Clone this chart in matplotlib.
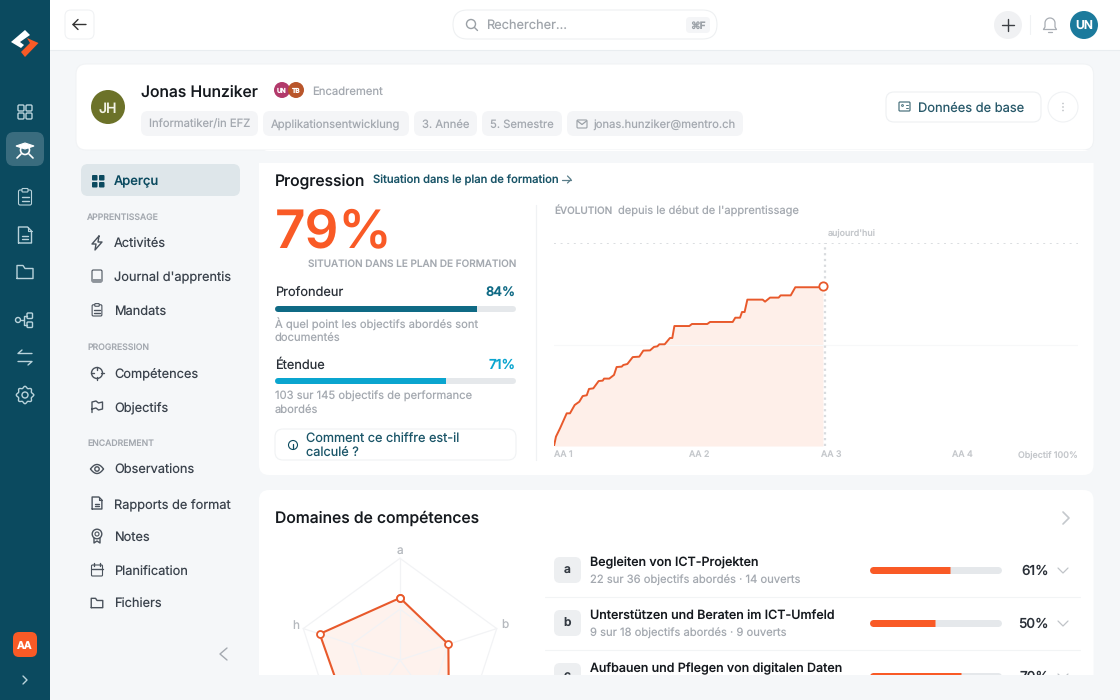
import numpy as np
import matplotlib
matplotlib.use('Agg')
import matplotlib.pyplot as plt
from matplotlib.patches import FancyBboxPatch, Circle, Polygon

plt.rcParams['font.family'] = ['Inter', 'DejaVu Sans']
plt.rcParams['text.hinting'] = 'none'
plt.rcParams['text.hinting_factor'] = 1

# data
evo_years = [0, .015, .046, .097, .122, .158, .193, .219, .25, .267, .3, .341, .372, .382, .422, .458, .478,
             .517, .529, .56, .601, .651, .682, .733, .763, .789, .804, .845, .885, .903, .919, 1.033, 1.053,
             1.17, 1.191, 1.364, 1.384, 1.42, 1.435, 1.455, 1.476, 1.593, 1.611, 1.649, 1.715, 1.73, 1.807,
             1.842, 2.04, 2.053]
evo_pct = [0, 4.6, 8.7, 16.1, 16.1, 20.2, 21.8, 24.6, 25, 28.1, 28.4, 32, 32.2, 33.2, 33.2, 35, 38.9,
           39.1, 39.9, 40.4, 43.8, 44, 47, 47.1, 48.8, 49.1, 50.1, 50.1, 53.2, 53.2, 59.1, 59.1, 60.1,
           60.1, 61.1, 61.1, 63.2, 63.2, 66, 66, 72.1, 72.1, 71.1, 73.1, 73.1, 74.2, 74.2,
           78.2, 78.2, 79]
evo_ticks = [0, 1.03, 2.04, 3.04, 4]
evo_tick_labels = ['AA 1', 'AA 2', 'AA 3', 'AA 4', 'Objectif 100%']
today = 2.069

radar_labels = ['a', 'b', 'c', 'd', 'h']
radar_values = [61, 50, 82, 80, 83]

depth_pct = 84
breadth_pct = 71

domain_letters = ['a', 'b', 'c']
domain_titles = ['Begleiten von ICT-Projekten', 'Unterstützen und Beraten im ICT-Umfeld', 'Aufbauen und Pflegen von digitalen Daten']
domain_subs = ['22 sur 36 objectifs abordés · 14 ouverts', '9 sur 18 objectifs abordés · 9 ouverts', '']
domain_pct = [61, 50, 70]

chips = ['Informatiker/in EFZ', 'Applikationsentwicklung', '3. Année', '5. Semestre', 'jonas.hunziker@mentro.ch']
chip_spans = [(141, 258), (263, 409), (414, 477), (482, 562), (567, 743)]

nav_groups = [('APPRENTISSAGE', 216), ('PROGRESSION', 346), ('ENCADREMENT', 442)]
nav_items = [('Activités', 243, 'bolt'), ("Journal d'apprentis", 276, 'book'), ('Mandats', 310, 'clip'),
             ('Compétences', 373, 'target'), ('Objectifs', 406, 'flag'), ('Observations', 469, 'eye'),
             ('Rapports de format', 503, 'doc'), ('Notes', 536, 'badge'), ('Planification', 570, 'cal'),
             ('Fichiers', 603, 'folder')]

W, H = 1120, 700
TEAL = '#0B4A5F'
ORANGE = '#F95A26'
INK = '#1B2027'
GREY = '#A4A9B0'
PAGE = '#F5F7F9'

fig = plt.figure(figsize=(W / 100, H / 100), dpi=100, facecolor=PAGE)
ax = fig.add_axes([0, 0, 1, 1], zorder=0)
ax.set_xlim(0, W)
ax.set_ylim(H, 0)
ax.axis('off')


def box(x0, y0, x1, y1, r, fc, ec='none', lw=0.8):
    p = FancyBboxPatch((x0, y0), x1 - x0, y1 - y0, boxstyle=f'round,pad=0,rounding_size={r}',
                       fc=fc, ec=ec, lw=lw, mutation_aspect=1)
    ax.add_patch(p)
    return p


def txt(x, y, s, px, color=INK, weight='normal', ha='left'):
    return ax.text(x, y, s, fontsize=px * 0.72, color=color, weight=weight, ha=ha, va='center_baseline')


def line(xs, ys, color, lw=1.0):
    ax.plot(xs, ys, color=color, lw=lw, solid_capstyle='round', solid_joinstyle='round')


def ring(x, y, r, ec, fc='none', lw=1.0):
    ax.add_patch(Circle((x, y), r, fc=fc, ec=ec, lw=lw))


def progress(x0, x1, y, h, value, color, track='#E5E8EB'):
    a = fig.add_axes([x0 / W, 1 - (y + 5) / H, (x1 - x0) / W, 10 / H], zorder=1)
    a.set_xlim(0, 100)
    a.set_ylim(-1, 1)
    a.axis('off')
    lw = h * 0.72
    cap = (h / 2) / (x1 - x0) * 100
    a.plot([cap, 100 - cap], [0, 0], color=track, lw=lw, solid_capstyle='round', clip_on=False)
    a.plot([cap, cap + 1], [0, 0], color=color, lw=lw, solid_capstyle='round', clip_on=False)
    a.plot([cap, value], [0, 0], color=color, lw=lw, solid_capstyle='butt', clip_on=False)


# small line icons, s scales them, s=1 is the sidebar size
def ic_clip(x, y, c, s=1.0, bg=TEAL):
    box(x - 6.5 * s, y - 7 * s, x + 6.5 * s, y + 8 * s, 1.6 * s, 'none', c)
    box(x - 3 * s, y - 8.5 * s, x + 3 * s, y - 5 * s, 0.8 * s, bg, c)
    line([x - 3.5 * s, x + 3.5 * s], [y, y], c)
    line([x - 3.5 * s, x + 3.5 * s], [y + 3.5 * s, y + 3.5 * s], c)


def ic_doc(x, y, c, s=1.0):
    l, r, t, b = x - 6.5 * s, x + 6.5 * s, y - 8 * s, y + 8 * s
    line([l, l, x + 2.5 * s, r, r, l], [b, t, t, t + 4 * s, b, b], c)
    line([x + 2.5 * s, x + 2.5 * s, r], [t, t + 4 * s, t + 4 * s], c, 0.8)
    line([x - 3 * s, x + 3 * s], [y + 1 * s, y + 1 * s], c)
    line([x - 3 * s, x + 3 * s], [y + 4 * s, y + 4 * s], c)


def ic_folder(x, y, c, s=1.0):
    l, r, t, b = x - 8 * s, x + 8 * s, y - 6.5 * s, y + 6.5 * s
    line([l, l, x - 2 * s, x, r, r, l], [b, t, t, t + 3 * s, t + 3 * s, b, b], c)


def icon(kind, x, y, c):
    s = 0.75
    if kind == 'bolt':
        line([x + 2, x - 5, x - 1, x - 2, x + 5, x + 1, x + 2], [y - 7, y + 1, y + 1, y + 7, y - 1, y - 1, y - 7], c)
    elif kind == 'book':
        box(x - 5, y - 6, x + 5, y + 6, 1.3, 'none', c)
        ax.add_patch(plt.Rectangle((x - 5, y + 2.5), 10, 3.5, fc='#8E949B', ec='none'))
    elif kind == 'clip':
        ic_clip(x, y, c, s, PAGE)
    elif kind == 'target':
        ring(x, y, 5.5, c)
        for ang in (0, 90, 180, 270):
            ca, sa = np.cos(np.radians(ang)), np.sin(np.radians(ang))
            line([x + 3.5 * ca, x + 6.5 * ca], [y + 3.5 * sa, y + 6.5 * sa], c)
    elif kind == 'flag':
        line([x - 5, x - 5, x - 1, x + 1.5, x + 5.5, x + 5.5, x + 1.5, x - 1, x - 5],
             [y + 6.5, y - 4, y - 5, y - 3, y - 4, y + 3, y + 4, y + 2, y + 3], c)
    elif kind == 'eye':
        t = np.linspace(-1, 1, 30)
        line(x + 6.5 * t, y - 4.5 * (1 - t ** 2), c)
        line(x + 6.5 * t, y + 4.5 * (1 - t ** 2), c)
        ring(x, y, 2.2, c)
    elif kind == 'doc':
        ic_doc(x, y, c, s)
    elif kind == 'badge':
        ring(x, y - 2, 4.8, c)
        ring(x, y - 2, 2, c, lw=0.8)
        line([x - 3, x - 3, x, x + 3, x + 3], [y + 2, y + 7, y + 5, y + 7, y + 2], c)
    elif kind == 'cal':
        box(x - 5.5, y - 5, x + 5.5, y + 6, 1, 'none', c)
        line([x - 5.5, x + 5.5], [y - 1.5, y - 1.5], c)
        line([x - 3, x - 3], [y - 7, y - 4], c)
        line([x + 3, x + 3], [y - 7, y - 4], c)
    elif kind == 'folder':
        ic_folder(x, y, c, 0.72)


# shells
ax.add_patch(plt.Rectangle((50, 0), W - 50, 49.5, fc='white', ec='none'))
line([50, W], [49.5, 49.5], '#E9EDF0', 0.8)
ax.add_patch(plt.Rectangle((0, 0), 50, H, fc=TEAL, ec='none'))
box(76, 64, 1093.5, 150, 10, 'white', '#F1F3F5')
box(259, 150, 1093.5, 475, 10, 'white')
ax.add_patch(plt.Rectangle((259, 151), 835, 12, fc=PAGE, ec='none'))
box(259, 490, 1093.5, 720, 10, 'white')

# sidebar
ax.add_patch(Polygon([(25, 30), (30, 35), (20, 42), (24, 45), (21, 48), (11, 42)], fc='white', ec='none'))
ax.add_patch(Polygon([(27, 38), (38.5, 43), (25, 57), (21, 52), (30, 43)], fc=ORANGE, ec='none'))
ICON = '#B9D3DB'
for dx in (-4, 4):
    for dy in (-4, 4):
        box(25 + dx - 3, 112 + dy - 3, 25 + dx + 3, 112 + dy + 3, 1.2, 'none', ICON, 1.0)
box(6, 132, 44, 166, 8, '#3A6C7E')
ax.add_patch(Polygon([(16, 146), (25, 143), (34, 146), (25, 149)], fc='white', ec='white', lw=0.8))
ring(25, 150, 4.5, 'white', lw=1.2)
line([17, 21], [158, 154], 'white', 1.2)
line([33, 29], [158, 154], 'white', 1.2)
line([19, 31], [156, 156], 'white', 0.01)
ic_clip(25, 197, ICON)
ic_doc(25, 235, ICON)
ic_folder(25, 272, ICON)
ring(18, 320, 2.5, ICON)
box(27, 313, 32.5, 318.5, 1, 'none', ICON, 1.0)
box(27, 322, 32.5, 327.5, 1, 'none', ICON, 1.0)
line([20.5, 24, 24, 27], [320, 320, 316, 316], ICON)
line([24, 24, 27], [320, 325, 325], ICON)
line([32, 18, 22], [353.5, 353.5, 350], ICON)
line([18, 32, 28], [361.5, 361.5, 365], ICON)
gear_t = np.linspace(0, 2 * np.pi, 160)
line(25 + (7.8 + 0.9 * np.cos(8 * gear_t)) * np.cos(gear_t), 395 + (7.8 + 0.9 * np.cos(8 * gear_t)) * np.sin(gear_t), ICON)
ring(25, 395, 3, ICON)
box(13, 632, 37, 657, 6, ORANGE)
txt(25, 645, 'AA', 10.5, 'white', 'bold', 'center')
line([23, 27, 23], [676, 680, 684], ICON)

# top bar
box(65, 10, 94, 39, 6, 'white', '#F0F2F4')
line([86, 73, 78], [24.5, 24.5, 19.5], '#333', 1.0)
line([73, 78], [24.5, 29.5], '#333', 1.0)
box(453, 10, 717, 39, 14.5, 'white', '#EEF0F2')
ring(471, 24, 4.5, '#9AA0A6')
line([474.5, 477.5], [27.5, 30.5], '#9AA0A6')
txt(486, 24.5, 'Rechercher...', 12.8, '#A0A5AB')
box(686, 17, 710, 33, 4, '#F4F5F7')
txt(698, 25, '⌘F', 10, '#9AA0A6', 'bold', 'center')
ring(1008, 25, 14, 'none', '#F0F1F3')
line([1002, 1014], [25, 25], '#3C3F44', 1.0)
line([1008, 1008], [19, 31], '#3C3F44', 1.0)
line([1029.5, 1029.5], [15, 34], '#F0F2F4', 0.8)
bell_t = np.linspace(np.pi, 0, 20)
line(np.r_[1043.5, 1045, 1050 + 5 * np.cos(bell_t), 1055, 1056.5, 1043.5],
     np.r_[29.5, 27, 23 + 5 * -np.sin(bell_t), 27, 29.5, 29.5], '#A8ADB3', 0.9)
line([1048, 1052], [31.5, 31.5], '#A8ADB3', 0.9)
ring(1084, 25, 14, 'none', '#1C7A9C')
txt(1084, 25.5, 'UN', 12, 'white', 'semibold', 'center')

# header card
ring(108, 107, 17, 'none', '#6C7229')
txt(108, 107.5, 'JH', 14, '#F2F2E6', 'medium', 'center')
txt(141, 90.5, 'Jonas Hunziker', 15.7, '#15191E', 'medium')
ring(282, 90, 8, 'none', '#B23A6B')
txt(282, 90.5, 'UN', 6.5, 'white', 'bold', 'center')
ring(296, 90, 8, 'none', '#B9562B')
txt(296, 90.5, 'TB', 6.5, 'white', 'bold', 'center')
txt(312, 90.5, 'Encadrement', 11.3, GREY)
for name, (c0, c1) in zip(chips, chip_spans):
    box(c0, 111, c1, 136, 7, '#F4F5F7')
    offset = 26 if '@' in name else 8
    txt(c0 + offset, 124, name, 11.25, GREY)
box(577, 120, 587, 128, 1, 'none', '#9AA0A6')
line([577.5, 582, 586.5], [121, 124.5, 121], '#9AA0A6', 0.9)
box(886, 92, 1041, 122, 8, 'white', '#EEF0F2')
box(899, 102, 910, 111, 1, 'none', '#4E7580', 0.9)
ring(902.5, 105.5, 0.9, '#4E7580', lw=0.7)
line([905.5, 908], [105, 105], '#4E7580', 0.7)
line([905.5, 908], [108, 108], '#4E7580', 0.7)
txt(918, 107.5, 'Données de base', 12.9, '#28596A')
ring(1063, 107, 15, '#F0F2F4', 'white', 0.8)
for yy in (103.5, 107, 110.5):
    ring(1063, yy, 0.5, '#C4C8CC', '#C4C8CC', 0.5)

# left nav
box(81, 164, 240, 196, 7, '#DEE6EA')
for dx in (0, 7):
    for dy in (0, 7):
        box(92 + dx, 175 + dy, 97.5 + dx, 180.5 + dy, 1, TEAL)
txt(114, 180.5, 'Aperçu', 13, TEAL, 'medium')
for name, yy in nav_groups:
    txt(87, yy + 0.5, name, 8.7, GREY, 'medium')
for name, yy, kind in nav_items:
    txt(114, yy + 0.5, name, 12.8, '#3A424C')
    icon(kind, 97, yy, '#4A525C')
line([227, 220, 227], [648, 654, 660], '#A4A9B0')

# progression card
txt(275, 179.5, 'Progression', 15.7, '#15191E', 'medium')
txt(373, 179.5, 'Situation dans le plan de formation', 11.2, '#1A5568', 'medium')
line([562, 571], [179.5, 179.5], '#5A7E8A', 0.9)
line([567.5, 571, 567.5], [176, 179.5, 183], '#5A7E8A', 0.9)
txt(275, 228.5, '79%', 53, ORANGE, 'semibold')
txt(516, 263, 'SITUATION DANS LE PLAN DE FORMATION', 10, GREY, 'medium', 'right')
txt(275, 291.5, 'Profondeur', 12.8, '#2A3038')
txt(516, 291.5, f'{depth_pct}%', 13, '#0F6A85', 'semibold', 'right')
progress(275, 516, 308.5, 6, depth_pct, '#0F6A85')
txt(275, 323, 'À quel point les objectifs abordés sont', 11.2, GREY)
txt(275, 337, 'documentés', 11.2, GREY)
txt(275, 364, 'Étendue', 12.8, '#2A3038')
txt(516, 364, f'{breadth_pct}%', 13.5, '#0AA5CF', 'semibold', 'right')
progress(275, 516, 380.5, 6, breadth_pct, '#0AA5CF')
txt(275, 395, '103 sur 145 objectifs de performance', 11.2, GREY)
txt(275, 409, 'abordés', 11.2, GREY)
box(275, 429, 516, 460, 8, 'white', '#F0F2F4')
ring(293, 445, 4.5, TEAL, lw=0.8)
line([293, 293], [444, 447.5], TEAL, 0.9)
line([293, 293], [442.2, 442.4], TEAL, 0.9)
txt(306, 438, 'Comment ce chiffre est-il', 12.7, '#1A5568')
txt(306, 452.5, 'calculé ?', 12.7, '#1A5568')
line([535.5, 535.5], [205, 460], '#F0F2F4', 0.9)
txt(554, 210.5, 'ÉVOLUTION', 10, GREY, 'medium')
txt(618, 210.5, "depuis le début de l'apprentissage", 11.1, GREY)

# evolution chart
chart = fig.add_axes([554 / W, 1 - 446 / H, (1078 - 554) / W, 203 / H], zorder=1)
chart.patch.set_alpha(0)
chart.set_xlim(0, 4)
chart.set_ylim(0, 100)
for side in chart.spines.values():
    side.set_visible(False)
chart.set_yticks([])
chart.set_xticks(evo_ticks, evo_tick_labels, fontsize=6.4, color='#C4C7CB', weight='medium')
chart.tick_params(axis='x', length=0, pad=3)
for lab in chart.get_xticklabels()[:-1]:
    lab.set_ha('left')
chart.get_xticklabels()[-1].set_ha('right')
chart.axhline(50, color='#F7F8F9', lw=0.8)
chart.axhline(100, color='#DADDE0', lw=1.4, ls=(0, (1, 2.4)))
chart.fill_between(evo_years, evo_pct, color='#FEEFE9', lw=0)
chart.plot([today, today], [0, 100], color='#D8DBDE', lw=1.6, ls=(0, (1, 1.6)))
chart.plot(evo_years, evo_pct, color='#E8592B', lw=1.4, solid_joinstyle='round')
chart.plot(evo_years[-1], evo_pct[-1], 'o', ms=6, mfc='white', mec='#E8592B', mew=1.3, clip_on=False)
chart.text(today + 0.02, 102.5, "aujourd'hui", fontsize=6.4, color='#C4C7CB', weight='medium', ha='left', va='bottom')

# domains card
txt(275, 517, 'Domaines de compétences', 15.7, '#15191E', 'medium')
line([1063, 1069, 1063], [512, 518, 524], '#C4C8CC', 1.2)
row_y = [570, 623, 676]
for i, yy in enumerate(row_y):
    box(554, yy - 13, 581, yy + 13, 6, '#EDEFF1')
    txt(567.5, yy - 0.5, domain_letters[i], 12, '#333A42', 'semibold', 'center')
    txt(590, yy - 8.5, domain_titles[i], 12.5, '#15191E', 'medium')
    txt(590, yy + 9, domain_subs[i], 11.2, GREY)
    progress(869, 1001, yy, 7, domain_pct[i], ORANGE)
    txt(1049, yy, f'{domain_pct[i]}%', 13.5, '#2A3038', 'medium', 'right')
    line([1058, 1063, 1068], [yy - 2, yy + 3, yy - 2], '#C0C4C8', 0.9)
line([545, 1080], [596.5, 596.5], '#F2F4F5', 0.8)
line([545, 1080], [649.5, 649.5], '#F2F4F5', 0.8)

# radar
R = 101.7
radar = fig.add_axes([(400 - R) / W, 1 - (660 + R) / H, 2 * R / W, 2 * R / H], projection='polar', zorder=1)
radar.patch.set_alpha(0)
radar.set_theta_zero_location('N')
radar.set_theta_direction(-1)
radar.set_ylim(0, 100)
radar.axis('off')
theta = np.linspace(0, 2 * np.pi, len(radar_labels), endpoint=False)
closed_t = np.append(theta, theta[0])
for ring_r in (50, 100):
    radar.plot(closed_t, [ring_r] * len(closed_t), color='#F2F3F5', lw=0.9, clip_on=False)
for th in theta:
    radar.plot([th, th], [0, 100], color='#F2F3F5', lw=0.9, clip_on=False)
closed_v = radar_values + radar_values[:1]
radar.fill(closed_t, closed_v, color='#F95A26', alpha=0.08, lw=0, clip_on=False)
radar.plot(closed_t, closed_v, color='#E8592B', lw=1.5, marker='o', ms=5, mfc='white', mec='#E8592B', mew=1.3, clip_on=False)
for th, lab in zip(theta, radar_labels):
    if np.cos(th) > 0:  # c and d sit below the fold
        radar.text(th, 108, lab, fontsize=8.5, color='#B5B9BE', ha='center', va='center', clip_on=False)

# page colour over what scrolls out of the card
cover = fig.add_axes([250 / W, 0, 870 / W, 25 / H], zorder=3)
cover.set_facecolor(PAGE)
cover.set_xticks([])
cover.set_yticks([])
for side in cover.spines.values():
    side.set_visible(False)

fig.savefig('out.png', dpi=100, facecolor=PAGE)
